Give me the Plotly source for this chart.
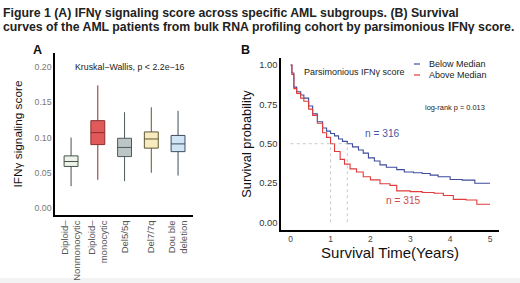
import plotly.graph_objects as go

# ---------------- Data ----------------
# Panel A: box-plot summary statistics
groups = ["Diploid–<br>Nonmonocytic", "Diploid–<br>monocytic", "Del5/5q", "Del7/7q", "Dou ble<br>deletion"]
lower_whisker = [0.031, 0.040, 0.038, 0.050, 0.046]
q1 = [0.059, 0.090, 0.073, 0.085, 0.080]
median = [0.066, 0.107, 0.086, 0.098, 0.091]
q3 = [0.074, 0.124, 0.099, 0.108, 0.103]
upper_whisker = [0.100, 0.174, 0.136, 0.143, 0.138]
box_fill = ["#EEF2E8", "#E05A5A", "#BCC6C6", "#F8ECBE", "#CFE4F5"]
box_line = ["#46524A", "#8A2E2E", "#4E5A5A", "#5E5636", "#3E4C5E"]
a_yticks = [0.00, 0.05, 0.10, 0.15, 0.20]

# Panel B: Kaplan-Meier step curves
below_t = [0, 0.03, 0.08, 0.15, 0.25, 0.33, 0.45, 0.55, 0.67, 0.8, 0.9, 1.0, 1.1, 1.2, 1.3,
           1.42, 1.55, 1.7, 1.82, 1.95, 2.1, 2.24, 2.4, 2.66, 2.85, 3.08, 3.3, 3.5, 3.7,
           4.0, 4.3, 4.62, 5.0]
below_s = [1.0, 0.95, 0.86, 0.83, 0.81, 0.79, 0.74, 0.69, 0.64, 0.60, 0.58, 0.565, 0.55, 0.53, 0.515,
           0.50, 0.48, 0.46, 0.44, 0.41, 0.39, 0.365, 0.35, 0.335, 0.32, 0.315, 0.31, 0.30, 0.29,
           0.272, 0.268, 0.248, 0.248]
above_t = [0, 0.03, 0.08, 0.15, 0.25, 0.33, 0.45, 0.55, 0.67, 0.8, 0.9, 1.0, 1.1, 1.24, 1.35,
           1.49, 1.65, 1.82, 2.0, 2.24, 2.49, 2.66, 3.0, 3.3, 3.6, 3.83, 4.08, 4.4, 4.67, 5.0]
above_s = [1.0, 0.94, 0.85, 0.82, 0.79, 0.77, 0.72, 0.68, 0.63, 0.57, 0.54, 0.50, 0.45, 0.40, 0.37,
           0.34, 0.32, 0.29, 0.27, 0.245, 0.235, 0.20, 0.195, 0.19, 0.185, 0.17, 0.146, 0.142, 0.115, 0.115]
median_below = 1.42
median_above = 1.0
b_xticks = [0, 1, 2, 3, 4, 5]
b_yticks = [0.00, 0.25, 0.50, 0.75, 1.00]

BLUE = "#3F4C9C"
RED = "#E03C3C"
FONT = "Liberation Sans, Arial, sans-serif"

fig = go.Figure()

# ---------------- Panel A ----------------
for i, g in enumerate(groups):
    fig.add_trace(go.Box(
        x=[g], q1=[q1[i]], median=[median[i]], q3=[q3[i]],
        lowerfence=[lower_whisker[i]], upperfence=[upper_whisker[i]],
        fillcolor=box_fill[i], line=dict(color=box_line[i], width=1),
        width=0.52, whiskerwidth=0, showlegend=False, hoverinfo="skip",
        xaxis="x", yaxis="y"))

# ---------------- Panel B ----------------
fig.add_trace(go.Scatter(x=below_t, y=below_s, mode="lines", line=dict(color=BLUE, width=1.1, shape="hv"),
                         showlegend=False, xaxis="x2", yaxis="y2"))
fig.add_trace(go.Scatter(x=above_t, y=above_s, mode="lines", line=dict(color=RED, width=1.1, shape="hv"),
                         showlegend=False, xaxis="x2", yaxis="y2"))
# median reference lines
fig.add_trace(go.Scatter(x=[0, median_below], y=[0.5, 0.5], mode="lines",
                         line=dict(color="#BBBBBB", width=0.8, dash="dot"), showlegend=False,
                         xaxis="x2", yaxis="y2", hoverinfo="skip"))
for m in [median_above, median_below]:
    fig.add_trace(go.Scatter(x=[m, m], y=[0, 0.5], mode="lines",
                             line=dict(color="#BBBBBB", width=0.8, dash="dot"), showlegend=False,
                             xaxis="x2", yaxis="y2", hoverinfo="skip"))

axis_common = dict(showgrid=False, zeroline=False, showline=True, linecolor="black", linewidth=1.5,
                   ticks="", mirror=False)

fig.update_layout(
    width=520, height=283,
    margin=dict(l=0, r=0, t=0, b=0),
    paper_bgcolor="white", plot_bgcolor="white",
    font=dict(family=FONT, color="#333333"),
    boxmode="overlay",
    xaxis=dict(domain=[0.1058, 0.3712], range=[-0.6, 4.56], type="category", anchor="y",
               categoryorder="array", categoryarray=groups,
               tickangle=-90, tickfont=dict(size=9.5, color="#555555"), **axis_common),
    yaxis=dict(domain=[0.2403, 0.8127], range=[-0.0099, 0.22], tickvals=a_yticks, anchor="x",
               ticktext=[f"{v:.2f}" for v in a_yticks], tickfont=dict(size=8.7, color="#777777"),
               title=dict(text="IFNγ signaling score", font=dict(size=11.8, color="#111111"), standoff=9),
               **axis_common),
    xaxis2=dict(domain=[0.5404, 0.9596], range=[-0.243, 5.226], tickvals=b_xticks, anchor="y2",
                tickfont=dict(size=8.5, color="#444444"),
                title=dict(text="Survival Time(Years)", font=dict(size=15, color="#111111"), standoff=2),
                **axis_common),
    yaxis2=dict(domain=[0.1873, 0.795], range=[-0.049, 1.045], tickvals=b_yticks, anchor="x2",
                ticktext=[f"{v:.2f}" for v in b_yticks], tickfont=dict(size=9.4, color="#333333"),
                title=dict(text="Survival probability", font=dict(size=12.8, color="#111111"), standoff=5),
                **axis_common),
)

ann = []
# Figure caption
ann.append(dict(text="<b>Figure 1 (A) IFNγ signaling score across specific AML subgroups. (B) Survival</b>",
                x=1/520, y=1-13/283, xref="paper", yref="paper", xanchor="left", yanchor="middle",
                showarrow=False, font=dict(size=12.3, color="#222222")))
ann.append(dict(text="<b>curves of the AML patients from bulk RNA profiling cohort by parsimonious IFNγ score.</b>",
                x=1/520, y=1-27/283, xref="paper", yref="paper", xanchor="left", yanchor="middle",
                showarrow=False, font=dict(size=12.3, color="#222222")))
# Panel labels
ann.append(dict(text="<b>A</b>", x=37/520, y=1-50/283, xref="paper", yref="paper", xanchor="center",
                yanchor="middle", showarrow=False, font=dict(size=12.5, color="#111111")))
ann.append(dict(text="<b>B</b>", x=245/520, y=1-50/283, xref="paper", yref="paper", xanchor="center",
                yanchor="middle", showarrow=False, font=dict(size=12.5, color="#111111")))
# Panel A text
ann.append(dict(text="Kruskal−Wallis, p < 2.2e−16", x=130/520, y=1-67/283, xref="paper", yref="paper",
                xanchor="center", yanchor="middle", showarrow=False, font=dict(size=8.8, color="#222222")))
# Panel B texts
ann.append(dict(text="Parsimonious IFNγ score", x=302/520, y=1-72/283, xref="paper", yref="paper",
                xanchor="left", yanchor="middle", showarrow=False, font=dict(size=9, color="#222222")))
ann.append(dict(text="Below Median", x=427/520, y=1-64/283, xref="paper", yref="paper",
                xanchor="left", yanchor="middle", showarrow=False, font=dict(size=9, color="#222222")))
ann.append(dict(text="Above Median", x=427/520, y=1-75/283, xref="paper", yref="paper",
                xanchor="left", yanchor="middle", showarrow=False, font=dict(size=9, color="#222222")))
ann.append(dict(text="log-rank p = 0.013", x=423/520, y=1-107/283, xref="paper", yref="paper",
                xanchor="left", yanchor="middle", showarrow=False, font=dict(size=7.4, color="#222222")))
ann.append(dict(text="n = 316", x=382/520, y=1-133/283, xref="paper", yref="paper",
                xanchor="center", yanchor="middle", showarrow=False, font=dict(size=10.2, color="#4A58A0")))
ann.append(dict(text="n = 315", x=403/520, y=1-200/283, xref="paper", yref="paper",
                xanchor="center", yanchor="middle", showarrow=False, font=dict(size=10.2, color="#D04848")))
fig.update_layout(annotations=ann)

# legend keys and bottom strip
fig.add_shape(type="line", xref="paper", yref="paper", x0=414/520, x1=420/520, y0=1-64/283, y1=1-64/283,
              line=dict(color=BLUE, width=1.2))
fig.add_shape(type="line", xref="paper", yref="paper", x0=414/520, x1=420/520, y0=1-75/283, y1=1-75/283,
              line=dict(color=RED, width=1.2))
fig.add_shape(type="rect", xref="paper", yref="paper", x0=0, x1=1, y0=0, y1=5/283,
              fillcolor="#F3F3F3", line=dict(width=0), layer="below")

fig.write_html("out.html", config={"displayModeBar": False},
               post_script="document.body.style.margin='0';document.body.style.overflow='hidden';")
